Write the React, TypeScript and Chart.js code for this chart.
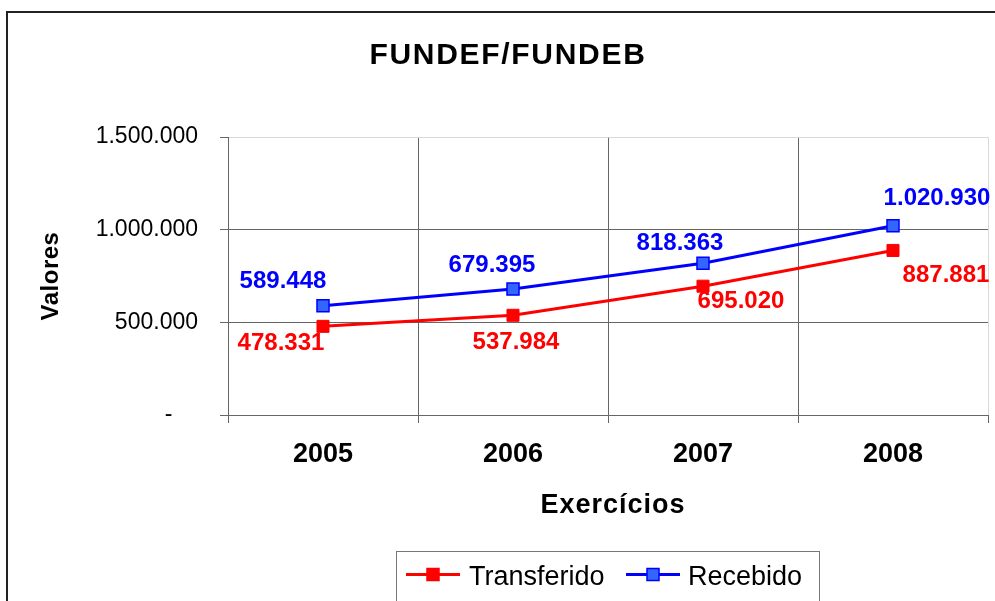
import { useEffect, useRef } from 'react';
import { Chart, registerables } from 'chart.js';

Chart.register(...registerables);

const categories = ['2005', '2006', '2007', '2008'];
const transferido = [478331, 537984, 695020, 887881];
const recebido = [589448, 679395, 818363, 1020930];
const yTicks = [0, 500000, 1000000, 1500000];
const yTickLabels = ['-', '500.000', '1.000.000', '1.500.000'];
const seriesNames = ['Transferido', 'Recebido'];
const chartTitle = 'FUNDEF/FUNDEB';
const yTitle = 'Valores';
const xTitle = 'Exercícios';

const FONT = '"Liberation Sans", Arial, sans-serif';
const RED = '#FF0000';
const BLUE = '#0000FF';
const BLUE_FILL = '#3366FF';
const GRID = '#666666';
const LIGHT = '#d9d9d9';

const fmt = (v: number) => String(v).replace(/\B(?=(\d{3})+(?!\d))/g, '.');

// label offsets (dx, dy) relative to each point, per series
const labelOffsets = [
  [[-42, 17], [3, 27], [38, 15], [53, 25]],
  [[-40, -24], [-21, -24], [-23, -20], [44, -27]],
];
const labelColors = [RED, BLUE];

const decorPlugin = {
  id: 'decor',
  beforeDraw(chart: any) {
    const ctx = chart.ctx;
    ctx.save();
    ctx.strokeStyle = '#222';
    ctx.lineWidth = 2;
    ctx.beginPath();
    ctx.moveTo(7, 601);
    ctx.lineTo(7, 12);
    ctx.lineTo(995, 12);
    ctx.stroke();
    ctx.restore();
  },
  afterDraw(chart: any) {
    const ctx = chart.ctx;
    ctx.save();
    ctx.fillStyle = '#000';
    ctx.textBaseline = 'alphabetic';

    // title
    ctx.font = `bold 30px ${FONT}`;
    (ctx as any).letterSpacing = '1.7px';
    ctx.textAlign = 'center';
    ctx.fillText(chartTitle, 508, 64);

    // x title
    ctx.font = `bold 27px ${FONT}`;
    (ctx as any).letterSpacing = '1px';
    ctx.fillText(xTitle, 613, 513);

    // y title
    ctx.save();
    ctx.font = `bold 24px ${FONT}`;
    (ctx as any).letterSpacing = '0.5px';
    ctx.translate(58, 276);
    ctx.rotate(-Math.PI / 2);
    ctx.textAlign = 'center';
    ctx.fillText(yTitle, 0, 0);
    ctx.restore();
    (ctx as any).letterSpacing = '0px';

    // data labels
    ctx.font = `bold 24px ${FONT}`;
    ctx.textAlign = 'center';
    ctx.textBaseline = 'middle';
    chart.data.datasets.forEach((ds: any, i: number) => {
      const meta = chart.getDatasetMeta(i);
      ctx.fillStyle = labelColors[i];
      meta.data.forEach((pt: any, j: number) => {
        const [dx, dy] = labelOffsets[i][j];
        ctx.fillText(fmt(ds.data[j]), pt.x + dx, pt.y + dy);
      });
    });

    // legend
    ctx.strokeStyle = '#777';
    ctx.lineWidth = 1;
    ctx.strokeRect(396.5, 551.5, 423, 60);
    const items = [
      { x: 406, textX: 469, line: RED, fill: RED, border: RED },
      { x: 626, textX: 688, line: BLUE, fill: BLUE_FILL, border: BLUE },
    ];
    items.forEach((it, i) => {
      ctx.strokeStyle = it.line;
      ctx.lineWidth = 3;
      ctx.beginPath();
      ctx.moveTo(it.x, 574.5);
      ctx.lineTo(it.x + 54, 574.5);
      ctx.stroke();
      ctx.fillStyle = it.fill;
      ctx.fillRect(it.x + 21, 568.5, 12, 12);
      ctx.strokeStyle = it.border;
      ctx.lineWidth = 1.5;
      ctx.strokeRect(it.x + 21, 568.5, 12, 12);
      ctx.fillStyle = '#000';
      ctx.font = `27px ${FONT}`;
      ctx.textAlign = 'left';
      ctx.textBaseline = 'alphabetic';
      ctx.fillText(seriesNames[i], it.textX, 585);
    });

    ctx.restore();
  },
};

export default function App() {
  const ref = useRef<HTMLCanvasElement | null>(null);

  useEffect(() => {
    if (!ref.current) return;
    const chart = new Chart(ref.current, {
      type: 'line',
      data: {
        labels: categories,
        datasets: [
          {
            label: seriesNames[0],
            data: transferido,
            borderColor: RED,
            backgroundColor: RED,
            borderWidth: 3,
            pointStyle: 'rect',
            pointRadius: 8.5,
            pointBorderWidth: 1,
            pointBackgroundColor: RED,
            pointBorderColor: RED,
            tension: 0,
          },
          {
            label: seriesNames[1],
            data: recebido,
            borderColor: BLUE,
            backgroundColor: BLUE_FILL,
            borderWidth: 3,
            pointStyle: 'rect',
            pointRadius: 8.5,
            pointBorderWidth: 1.5,
            pointBackgroundColor: BLUE_FILL,
            pointBorderColor: BLUE,
            tension: 0,
          },
        ],
      },
      options: {
        animation: false,
        responsive: false,
        layout: { autoPadding: false, padding: { top: 137, right: 7, left: 0, bottom: 0 } },
        plugins: {
          legend: { display: false },
          title: { display: false },
          tooltip: { enabled: false },
        },
        scales: {
          x: {
            type: 'category',
            offset: true,
            grid: {
              offset: true,
              color: (c: any) => (c.type === 'tick' ? GRID : LIGHT),
              tickColor: GRID,
              tickLength: 8,
              lineWidth: 1,
            },
            border: { color: GRID, width: 1 },
            ticks: {
              color: '#000',
              font: { family: FONT, size: 27, weight: 'bold' },
              padding: 15,
              maxRotation: 0,
              autoSkip: false,
            },
            afterFit: (s: any) => {
              s.height = 186;
            },
          },
          y: {
            min: 0,
            max: 1500000,
            afterBuildTicks: (s: any) => {
              s.ticks = yTicks.map((v) => ({ value: v }));
            },
            grid: {
              color: (c: any) => (c.tick && c.tick.value === 1500000 ? LIGHT : GRID),
              tickColor: GRID,
              tickLength: 8,
              lineWidth: 1,
            },
            border: { color: GRID, width: 1 },
            ticks: {
              color: '#000',
              font: { family: FONT, size: 23 },
              padding: 22,
              callback: (v: any) => {
                const i = yTicks.indexOf(Number(v));
                return i === 0 ? yTickLabels[0] + '    ' : yTickLabels[i];
              },
            },
            afterFit: (s: any) => {
              s.width = 228;
            },
          },
        },
      },
      plugins: [decorPlugin],
    } as any);
    return () => chart.destroy();
  }, []);

  return (
    <div style={{ position: 'fixed', left: 0, top: 0, width: 995, height: 601, background: '#fff' }}>
      <canvas ref={ref} width={995} height={601} style={{ width: 995, height: 601, display: 'block' }} />
    </div>
  );
}
